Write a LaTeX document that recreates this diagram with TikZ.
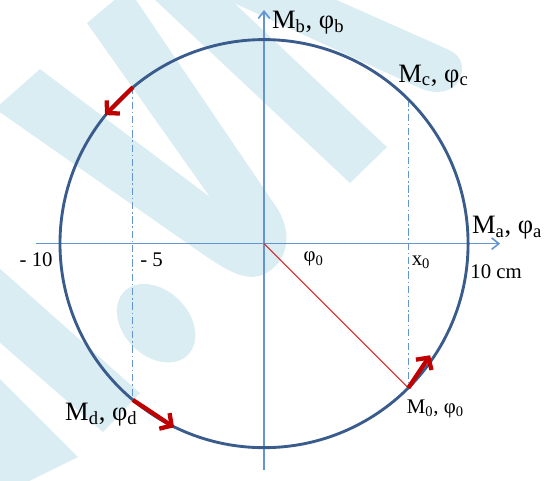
\documentclass[tikz,border=0pt]{standalone}
\usepackage{fontspec}
\setmainfont{Liberation Serif}
\usepackage{xcolor}
\definecolor{wmblue}{RGB}{218,237,243}
\definecolor{axisblue}{RGB}{100,148,210}
\definecolor{circblue}{RGB}{58,92,140}
\definecolor{arrred}{RGB}{192,0,0}
\definecolor{linered}{RGB}{215,40,40}
\usepackage{tikz}
\usetikzlibrary{arrows.meta, positioning, calc}

\begin{document}
\begin{tikzpicture}[x=0.5cm, y=0.5cm,
  axisline/.style={axisblue, line width=1.1pt, -{Straight Barb[length=5pt, width=8pt]}},
  projline/.style={axisblue, line width=0.8pt, dash pattern=on 5pt off 2pt on 1pt off 2pt},
  motion/.style={arrred, line width=3pt, -{Straight Barb[length=6pt, width=13pt]}},
  biglbl/.style={font=\fontsize{18.5}{20}\selectfont, inner sep=0pt, anchor=base west},
  smalllbl/.style={font=\fontsize{14.5}{16}\selectfont, inner sep=0pt, anchor=base west}]

\useasboundingbox (-12.94,-11.59) rectangle (14.26,11.94);

% ===== background watermark =====
\begin{scope}
\clip (-12.94,-11.59) rectangle (14.26,11.94);
\begin{scope}[x=0.0245098cm, y=-0.0245098cm, shift={(-6.4706cm,5.9681cm)}]
\fill[wmblue] (87,23) -- (118,-3) -- (134,-3) -- (275,205)
  .. controls (292,228) and (292,262) .. (262,275)
  .. controls (240,283) and (215,262) .. (187,243)
  -- (-3,110) -- (-3,107) -- (40,69) -- (210,197) -- cycle;
\fill[wmblue] (152,-3) -- (350,183) -- (387,147) -- (228,-3) -- cycle;
\fill[wmblue] (221,-3) -- (420,88)
  .. controls (440,97) and (462,90) .. (462,68)
  .. controls (462,58) and (455,52) .. (445,48) -- (330,-3) -- cycle;
\fill[wmblue] (-3,266) -- (140,393) -- (103,432) -- (-3,340) -- cycle;
\fill[wmblue] (-3,376) -- (78,457) -- (25,483) -- (-3,483) -- cycle;
\end{scope}
\fill[wmblue, rotate around={-45:(-5.29,-3.9)}] (-5.29,-3.9) ellipse (2.2 and 1.6);
\end{scope}

% ===== axes =====
\coordinate (O) at (0,0);
\coordinate (xL) at (-11.2,0);
\coordinate (xR) at (11.57,0);
\coordinate (yB) at (0,-11.1);
\coordinate (yT) at (0,11.45);
\draw[axisline] (xL) -- (xR);
\draw[axisline] (yB) -- (yT);

% ===== circle and points =====
\coordinate (M0) at (-45:10);
\coordinate (Mc) at (45:10);
\coordinate (Mtl) at (130:10);
\coordinate (Md) at (230:10);
\draw[projline] (Mc) -- (M0);
\draw[projline] (Mtl) -- (Md);
\draw[circblue, line width=2pt] (O) circle (10);
\draw[linered, line width=0.8pt] (O) -- (M0);

% velocity arrows
\coordinate (tipTL) at (-7.79,6.30);
\coordinate (tipD) at (-4.41,-9.0);
\coordinate (tip0) at (8.14,-5.47);
\draw[motion] (Mtl) -- (tipTL);
\draw[motion] (Md) -- (tipD);
\draw[motion] (M0) -- (tip0);

% ===== labels =====
\node[biglbl] (lblB) at (0.38,10.54) {M\textsubscript{b}, φ\textsubscript{b}};
\node[biglbl] (lblC) at (6.57,7.92) {M\textsubscript{c}, φ\textsubscript{c}};
\node[biglbl] (lblA) at (10.18,0.5) {M\textsubscript{a}, φ\textsubscript{a}};
\node[biglbl] (lblD) at (-9.76,-8.65) {M\textsubscript{d}, φ\textsubscript{d}};
\node[smalllbl] (lbl0) at (6.99,-8.31) {M\textsubscript{0}, φ\textsubscript{0}};
\node[smalllbl] (ten) at (10.1,-1.7) {10 cm};
\node[smalllbl] (xzero) at (7.23,-1.05) {x\textsubscript{0}};
\node[smalllbl] (phizero) at (1.93,-0.9) {φ\textsubscript{0}};
\node[smalllbl] (mten) at (-11.99,-1.14) {- 10};
\node[smalllbl] (mfive) at (-6.08,-1.14) {- 5};

\end{tikzpicture}
\end{document}
